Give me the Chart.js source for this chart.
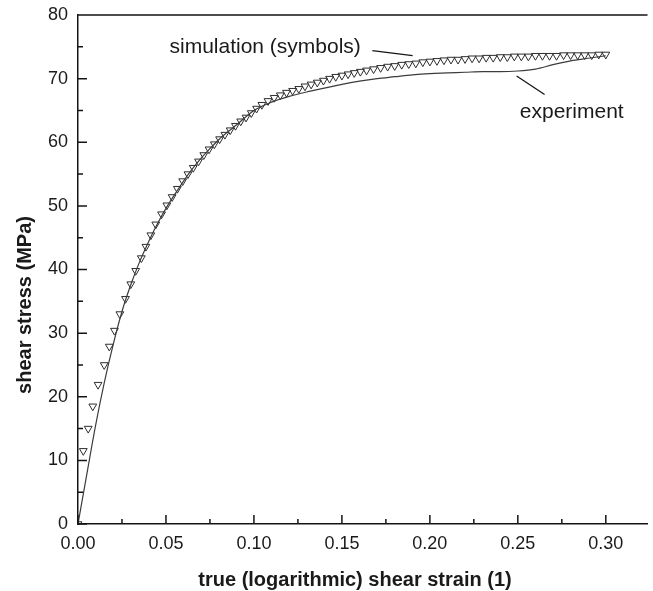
<!DOCTYPE html>
<html>
<head>
<meta charset="utf-8">
<script src="https://cdn.jsdelivr.net/npm/chart.js@4.4.1/dist/chart.umd.min.js"></script>
<style>
  body { margin: 0; background: #fff; }
  #wrap { width: 653px; height: 591px; }
</style>
</head>
<body>
<div id="wrap"><canvas id="myChart"></canvas></div>
<script>
// axis ticks
const strainTicks = [0, 0.05, 0.10, 0.15, 0.20, 0.25, 0.30];
const strainMinor = [0.025, 0.075, 0.125, 0.175, 0.225, 0.275];
const stressTicks = [0, 10, 20, 30, 40, 50, 60, 70, 80];
const stressMinor = [5, 15, 25, 35, 45, 55, 65, 75];

// experiment (solid line)
const expStrain = [0, 0.005, 0.010, 0.015, 0.020, 0.025, 0.030, 0.035, 0.040, 0.045, 0.050, 0.055,
    0.060, 0.065, 0.070, 0.075, 0.080, 0.085, 0.090, 0.100, 0.110, 0.120, 0.130, 0.140, 0.150,
    0.160, 0.170, 0.180, 0.190, 0.200, 0.210, 0.220, 0.230, 0.240, 0.250, 0.260, 0.270, 0.280,
    0.290, 0.300];
const expStress = [0, 7.8, 15.5, 22.3, 28.2, 33.4, 37.6, 41.2, 44.3, 47.1, 49.6, 51.8,
    53.9, 55.8, 57.5, 59.0, 60.4, 61.6, 62.7, 65.0, 66.3, 67.2, 67.9, 68.5, 69.1,
    69.6, 70.0, 70.3, 70.6, 70.8, 70.9, 71.0, 71.1, 71.1, 71.2, 71.5, 72.2, 72.8,
    73.2, 73.6];

// simulation (symbols)
const simStrain = [0, 0.0030, 0.0058, 0.0084, 0.0114, 0.0149, 0.0178, 0.0207, 0.0238, 0.0270,
    0.0300, 0.0328, 0.0360, 0.0386, 0.0414, 0.0442, 0.0475, 0.0505, 0.0535, 0.0565, 0.0595,
    0.0625, 0.0655, 0.0685, 0.0715, 0.0745, 0.0775, 0.0805, 0.0835, 0.0865, 0.0895, 0.0925,
    0.0955, 0.0985, 0.1015, 0.1045, 0.1080, 0.1115, 0.1150, 0.1185, 0.1220, 0.1255, 0.1290,
    0.1325, 0.1360, 0.1395, 0.1430, 0.1465, 0.1500, 0.1535, 0.1570, 0.1605, 0.1640, 0.1680,
    0.1720, 0.1760, 0.1800, 0.1840, 0.1880, 0.1920, 0.1960, 0.2000, 0.2040, 0.2080, 0.2120,
    0.2160, 0.2200, 0.2240, 0.2280, 0.2320, 0.2360, 0.2400, 0.2440, 0.2480, 0.2520, 0.2560,
    0.2600, 0.2640, 0.2680, 0.2720, 0.2760, 0.2800, 0.2840, 0.2880, 0.2920, 0.2960, 0.3000];
const simStress = [0, 11.5, 15.0, 18.5, 21.9, 25.0, 27.9, 30.4, 33.0, 35.4,
    37.7, 39.8, 41.8, 43.6, 45.4, 47.1, 48.7, 50.1, 51.4, 52.7, 53.9,
    55.0, 56.0, 57.0, 58.0, 58.9, 59.7, 60.5, 61.2, 61.9, 62.6, 63.3,
    63.9, 64.6, 65.3, 65.9, 66.5, 67.0, 67.4, 67.8, 68.1, 68.4, 68.8,
    69.1, 69.4, 69.7, 70.0, 70.3, 70.5, 70.7, 70.9, 71.1, 71.3, 71.5,
    71.7, 71.9, 72.0, 72.2, 72.3, 72.4, 72.6, 72.7, 72.8, 72.9, 73.0,
    73.0, 73.1, 73.2, 73.2, 73.3, 73.3, 73.4, 73.4, 73.5, 73.5, 73.5,
    73.6, 73.6, 73.6, 73.6, 73.7, 73.7, 73.7, 73.7, 73.7, 73.8, 73.8];

const axisColor = '#151515';
const textColor = '#1a1a1a';

// inward ticks, top frame line, axis titles and the two notes
const decor = {
    id: 'decor',
    afterDraw(chart) {
        const { ctx, chartArea: a, scales: { x, y } } = chart;
        ctx.save();
        ctx.strokeStyle = axisColor;
        ctx.lineWidth = 1.5;
        ctx.beginPath();
        ctx.moveTo(a.left, a.top);
        ctx.lineTo(a.right, a.top);
        strainTicks.forEach(v => { const p = x.getPixelForValue(v); ctx.moveTo(p, a.bottom); ctx.lineTo(p, a.bottom - 9); });
        strainMinor.forEach(v => { const p = x.getPixelForValue(v); ctx.moveTo(p, a.bottom); ctx.lineTo(p, a.bottom - 5); });
        stressTicks.forEach(v => { const p = y.getPixelForValue(v); ctx.moveTo(a.left, p); ctx.lineTo(a.left + 9, p); });
        stressMinor.forEach(v => { const p = y.getPixelForValue(v); ctx.moveTo(a.left, p); ctx.lineTo(a.left + 5, p); });
        ctx.stroke();

        ctx.fillStyle = textColor;
        ctx.font = 'bold 20px "Liberation Sans", Arial, sans-serif';
        ctx.textAlign = 'center';
        ctx.textBaseline = 'alphabetic';
        ctx.fillText('true (logarithmic) shear strain (1)', 355, 586);
        ctx.translate(31, 305);
        ctx.rotate(-Math.PI / 2);
        ctx.fillText('shear stress (MPa)', 0, 0);
        ctx.setTransform(1, 0, 0, 1, 0, 0);

        // notes
        ctx.font = '21px "Liberation Sans", Arial, sans-serif';
        ctx.textAlign = 'left';
        ctx.fillText('simulation (symbols)', x.getPixelForValue(0.052), y.getPixelForValue(74.0));
        ctx.fillText('experiment', x.getPixelForValue(0.2511), y.getPixelForValue(63.8));
        ctx.lineWidth = 1.3;
        ctx.beginPath();
        ctx.moveTo(x.getPixelForValue(0.1673), y.getPixelForValue(74.4));
        ctx.lineTo(x.getPixelForValue(0.1902), y.getPixelForValue(73.6));
        ctx.moveTo(x.getPixelForValue(0.2493), y.getPixelForValue(70.4));
        ctx.lineTo(x.getPixelForValue(0.2652), y.getPixelForValue(67.5));
        ctx.stroke();
        ctx.restore();
    }
};

new Chart(document.getElementById('myChart').getContext('2d'), {
    type: 'scatter',
    data: {
        datasets: [{
            label: 'experiment',
            data: expStrain.map((v, i) => ({ x: v, y: expStress[i] })),
            showLine: true,
            borderColor: '#3c3c3c',
            borderWidth: 1.2,
            pointRadius: 0,
            cubicInterpolationMode: 'monotone'
        }, {
            label: 'simulation (symbols)',
            data: simStrain.map((v, i) => ({ x: v, y: simStress[i] })),
            showLine: false,
            pointStyle: 'triangle',
            rotation: 180,
            pointRadius: 4.5,
            borderWidth: 1,
            borderColor: '#2e2e2e',
            backgroundColor: 'rgba(255,255,255,0)'
        }]
    },
    options: {
        responsive: true,
        maintainAspectRatio: false,
        animation: false,
        layout: { padding: { top: 15, right: 0, left: 0, bottom: 0 } },
        plugins: { legend: { display: false }, tooltip: { enabled: false } },
        scales: {
            x: {
                type: 'linear',
                min: 0,
                max: 0.3237,
                afterBuildTicks: s => { s.ticks = strainTicks.map(v => ({ value: v })); },
                afterFit: s => { s.height = 67; },
                grid: { display: false, drawTicks: false },
                border: { display: true, color: axisColor, width: 1.5 },
                ticks: {
                    padding: 9,
                    color: textColor,
                    font: { size: 18, family: '"Liberation Sans", Arial, sans-serif' },
                    callback: v => Number(v).toFixed(2),
                    maxRotation: 0
                }
            },
            y: {
                type: 'linear',
                min: 0,
                max: 80,
                afterBuildTicks: s => { s.ticks = stressTicks.map(v => ({ value: v })); },
                afterFit: s => { s.width = 78; s.paddingTop = 0; s.paddingBottom = 0; },
                grid: { display: false, drawTicks: false },
                border: { display: true, color: axisColor, width: 1.5 },
                ticks: {
                    padding: 10,
                    color: textColor,
                    font: { size: 18, family: '"Liberation Sans", Arial, sans-serif' }
                }
            }
        }
    },
    plugins: [decor]
});
</script>
</body>
</html>
